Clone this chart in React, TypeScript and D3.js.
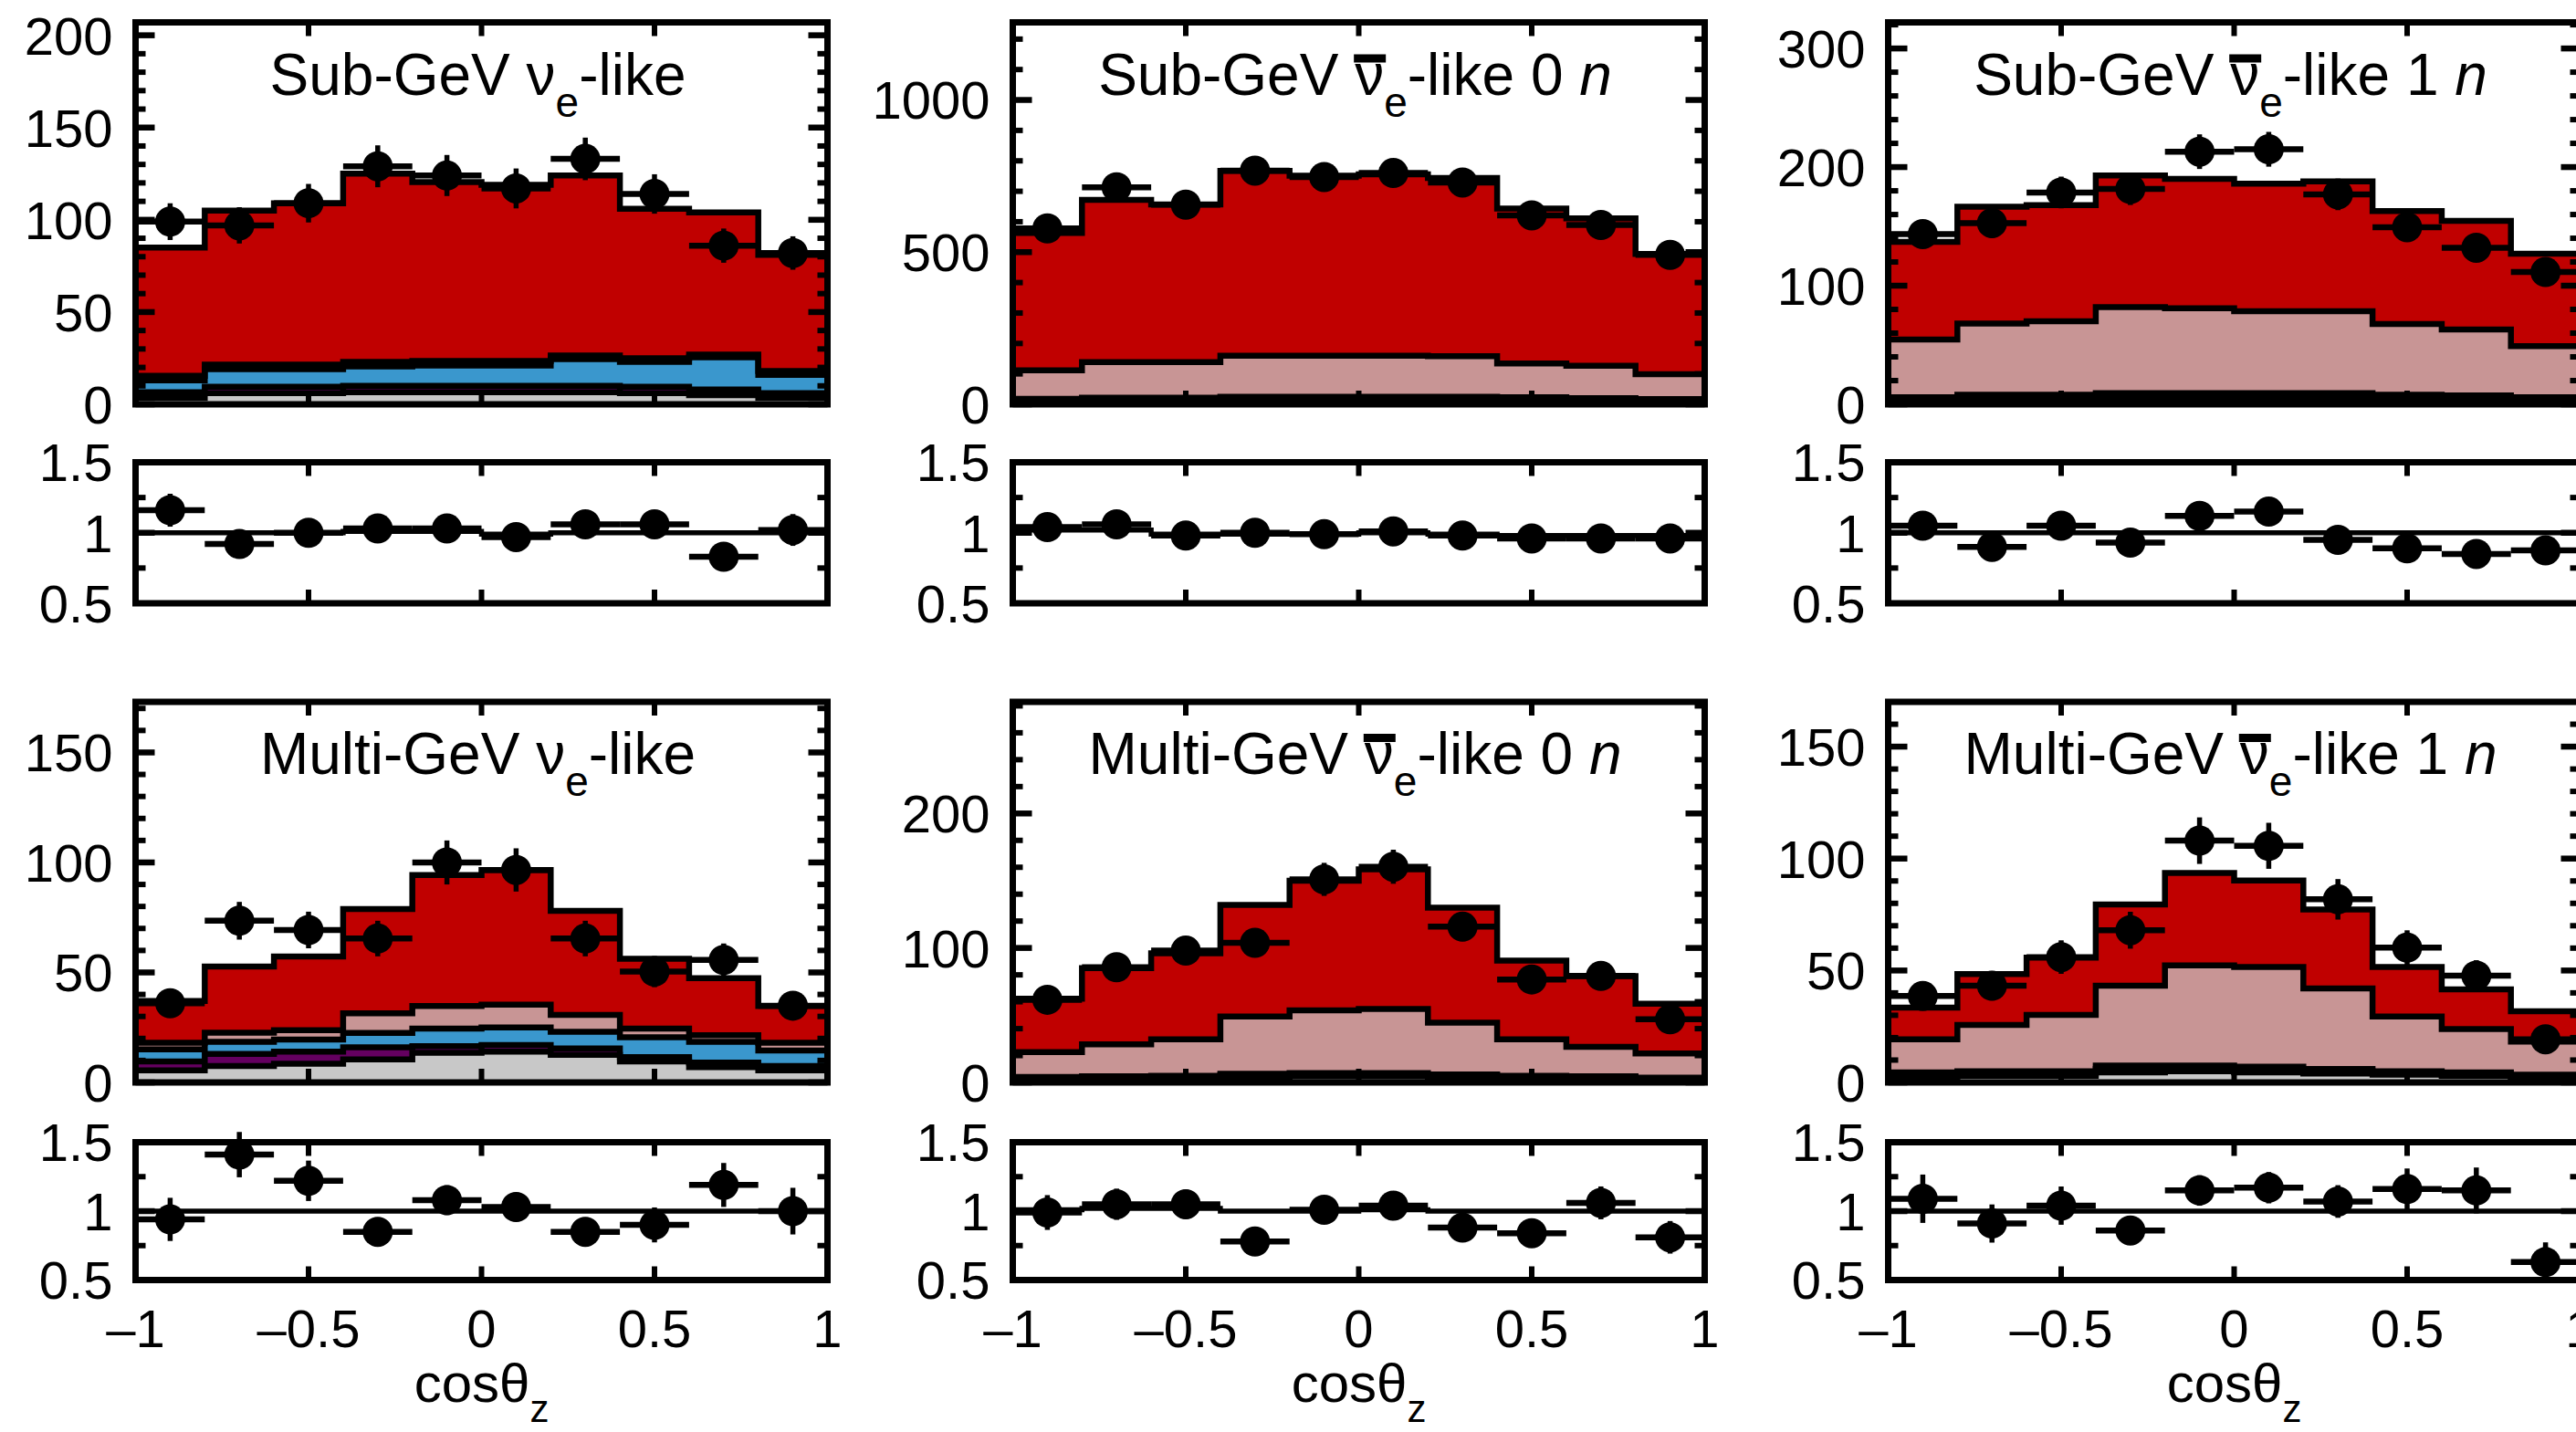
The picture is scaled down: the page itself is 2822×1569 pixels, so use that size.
import React, { useEffect, useRef } from 'react';
import * as d3 from 'd3';

// ---------------- data ----------------
const binEdges = [-1, -0.8, -0.6, -0.4, -0.2, 0, 0.2, 0.4, 0.6, 0.8, 1];
const binCenters = [-0.9, -0.7, -0.5, -0.3, -0.1, 0.1, 0.3, 0.5, 0.7, 0.9];
const xTickValues = [-1, -0.5, 0, 0.5, 1];
const xTickLabels = ['\u20131', '\u20130.5', '0', '0.5', '1'];
const ratioTickValues = [0.5, 1, 1.5];
const ratioTickLabels = ['0.5', '1', '1.5'];

// Sub-GeV nu_e-like
const sgNueGray = [3.5, 6, 6, 6.5, 6.5, 6.5, 6.5, 6, 5, 3.5];
const sgNuePurple = [6.5, 9.5, 9.5, 10, 10, 10, 10, 9.5, 8, 6];
const sgNueBlue = [13, 19, 19, 20.5, 21, 21, 24.5, 23, 25.5, 16];
const sgNuePink = [15.5, 21.5, 21.5, 23, 23.5, 23.5, 26.5, 25, 27, 18];
const sgNueTotal = [85, 105, 109, 125, 120.5, 119, 124, 106, 104, 81];
const sgNueData = [99, 97, 109, 129, 124, 117, 133, 114, 86, 82];
const sgNueRatio = [1.16, 0.92, 1.0, 1.03, 1.03, 0.97, 1.06, 1.06, 0.83, 1.02];
const sgNueRatioLine = [1, 1, 1, 1.01, 1.01, 0.99, 1, 1, 1, 1];

// Sub-GeV nubar_e-like 0n
const sg0nGray = [4, 5, 6, 8, 8, 8, 8, 7, 5, 4];
const sg0nPurple = [6, 7, 8, 10, 10, 10, 10, 9, 7, 6];
const sg0nBlue = [18, 22, 22, 25, 25, 25, 25, 23, 20, 17];
const sg0nPink = [112, 139, 139, 160, 160, 160, 158, 134, 127, 99];
const sg0nTotal = [563, 672, 657, 767, 751, 756, 744, 643, 611, 494];
const sg0nData = [578, 713, 656, 768, 747, 760, 729, 621, 589, 491];
const sg0nRatio = [1.04, 1.06, 0.98, 1.0, 0.99, 1.01, 0.98, 0.96, 0.96, 0.96];
const sg0nRatioLine = [1.02, 1.02, 0.99, 0.99, 0.99, 1.0, 0.99, 0.98, 0.98, 0.98];

// Sub-GeV nubar_e-like 1n
const sg1nGray = [2, 3, 3, 4, 4, 4, 4, 3, 3, 2];
const sg1nPurple = [3, 4, 4, 5, 5, 5, 5, 4, 4, 3];
const sg1nBlue = [6, 8, 8, 9.5, 9.5, 9.5, 9.5, 8, 7.5, 6];
const sg1nPink = [54.6, 68, 70, 82, 81, 78.5, 78.5, 67.7, 63, 49];
const sg1nTotal = [137, 166.5, 168, 193, 190, 186, 188, 163, 154.6, 127];
const sg1nData = [143.5, 152.8, 178.6, 181.5, 213, 215, 177, 149.3, 132, 111.5];
const sg1nRatio = [1.05, 0.9, 1.05, 0.93, 1.12, 1.15, 0.95, 0.89, 0.85, 0.875];
const sg1nRatioLine = [1, 1, 1, 1, 1, 1, 1, 1, 1, 1];

// Multi-GeV nu_e-like
const mgNueGray = [5.5, 7.5, 8.5, 10.5, 13.5, 14, 12.5, 9.5, 7, 5.5];
const mgNuePurple = [9.5, 13, 14, 16, 16.5, 17, 15.5, 11.5, 9, 7.5];
const mgNueBlue = [15, 18.5, 19.5, 22.5, 24.5, 25, 23, 20.5, 18.5, 14.5];
const mgNuePink = [18, 22.6, 23.8, 31.4, 34.7, 35.4, 30.7, 24.5, 21.5, 18];
const mgNueTotal = [37, 52.7, 57.3, 78.8, 94.3, 96.6, 78, 56.2, 47.4, 34.7];
const mgNueData = [36, 73.5, 69.3, 65.4, 100, 96.6, 65.4, 50.4, 55.7, 34.9];
const mgNueRatio = [0.94, 1.41, 1.22, 0.85, 1.08, 1.03, 0.85, 0.9, 1.19, 1.0];
const mgNueRatioLine = [1, 1, 1, 1, 1, 1, 1, 1, 1, 1];

// Multi-GeV nubar_e-like 0n
const mg0nGray = [2, 2.5, 3, 4, 4.5, 4.5, 4, 3, 2.5, 2];
const mg0nPurple = [3, 3.5, 4, 5.5, 6, 6, 5, 4, 3.5, 3];
const mg0nBlue = [4, 4.5, 5, 6.5, 7, 7, 6, 5, 4.5, 3.5];
const mg0nPink = [22.6, 28.3, 32, 49, 53.6, 54.7, 44.5, 32, 26.4, 21.5];
const mg0nTotal = [62.3, 85, 96, 132, 150, 158.5, 130, 90.6, 79, 58.5];
const mg0nData = [61.5, 85.7, 98, 103.8, 151, 160.4, 115.8, 76.6, 79.2, 47];
const mg0nRatio = [0.99, 1.05, 1.05, 0.78, 1.01, 1.04, 0.88, 0.84, 1.06, 0.81];
const mg0nRatioLine = [1.01, 1.02, 1.02, 1, 1, 1.01, 1, 1, 1, 1];

// Multi-GeV nubar_e-like 1n
const mg1nGray = [2.5, 3, 3, 4.5, 5, 4.5, 4, 3.5, 3, 2];
const mg1nPurple = [3.5, 4, 4, 6, 6.5, 6, 5, 4.5, 3.5, 2.5];
const mg1nBlue = [4.5, 5, 5, 7.5, 7.5, 7, 6, 5, 4.5, 3.5];
const mg1nPink = [19.3, 25.7, 30.2, 43.2, 52.3, 51.6, 42, 29.5, 23.9, 18.2];
const mg1nTotal = [33.4, 48.4, 55.7, 79.5, 93.6, 90.2, 77.3, 51.6, 41.6, 31.8];
const mg1nData = [38.6, 43.2, 56, 68, 108, 105.7, 81.8, 60.2, 47.7, 19.3];
const mg1nRatio = [1.09, 0.91, 1.04, 0.86, 1.15, 1.17, 1.07, 1.16, 1.15, 0.63];
const mg1nRatioLine = [1, 1, 1, 1, 1, 1, 1, 1, 1, 1];

const layerColors = ['#c00000', '#c89595', '#3a97cd', '#640060', '#c8c8c8'];

type Panel = {
  prefix: string; bar: boolean; suffix: string;
  ymax: number; major: number; minor: number;
  layers: number[][]; data: number[]; ratio: number[]; ratioLine: number[];
  col: number; row: number;
};

const panels: Panel[] = [
  { prefix: 'Sub-GeV ', bar: false, suffix: '', ymax: 207, major: 50, minor: 10,
    layers: [sgNueTotal, sgNuePink, sgNueBlue, sgNuePurple, sgNueGray], data: sgNueData, ratio: sgNueRatio, ratioLine: sgNueRatioLine, col: 0, row: 0 },
  { prefix: 'Sub-GeV ', bar: true, suffix: '0', ymax: 1255, major: 500, minor: 100,
    layers: [sg0nTotal, sg0nPink, sg0nBlue, sg0nPurple, sg0nGray], data: sg0nData, ratio: sg0nRatio, ratioLine: sg0nRatioLine, col: 1, row: 0 },
  { prefix: 'Sub-GeV ', bar: true, suffix: '1', ymax: 322, major: 100, minor: 20,
    layers: [sg1nTotal, sg1nPink, sg1nBlue, sg1nPurple, sg1nGray], data: sg1nData, ratio: sg1nRatio, ratioLine: sg1nRatioLine, col: 2, row: 0 },
  { prefix: 'Multi-GeV ', bar: false, suffix: '', ymax: 173, major: 50, minor: 10,
    layers: [mgNueTotal, mgNuePink, mgNueBlue, mgNuePurple, mgNueGray], data: mgNueData, ratio: mgNueRatio, ratioLine: mgNueRatioLine, col: 0, row: 1 },
  { prefix: 'Multi-GeV ', bar: true, suffix: '0', ymax: 283, major: 100, minor: 20,
    layers: [mg0nTotal, mg0nPink, mg0nBlue, mg0nPurple, mg0nGray], data: mg0nData, ratio: mg0nRatio, ratioLine: mg0nRatioLine, col: 1, row: 1 },
  { prefix: 'Multi-GeV ', bar: true, suffix: '1', ymax: 170, major: 50, minor: 10,
    layers: [mg1nTotal, mg1nPink, mg1nBlue, mg1nPurple, mg1nGray], data: mg1nData, ratio: mg1nRatio, ratioLine: mg1nRatioLine, col: 2, row: 1 },
];

// ---------------- layout ----------------
const W = 2822, H = 1569;
const colX = [148.5, 1109.5, 2068.5];
const panelW = 758;
const mainY = [[24.5, 443], [769, 1186]];
const ratioY = [[506.5, 661], [1251.5, 1402.5]];
const FONT = "'Liberation Sans', Arial, Helvetica, sans-serif";
const FS = 58;
const TFS = 64;

export default function App() {
  const ref = useRef<SVGSVGElement | null>(null);

  useEffect(() => {
    const svg = d3.select(ref.current);
    svg.selectAll('*').remove();
    svg.append('rect').attr('width', W).attr('height', H).attr('fill', 'white');
    const defs = svg.append('defs');

    panels.forEach((p, pi) => {
      const x0 = colX[p.col];
      const [mt, mb] = mainY[p.row];
      const [rt, rb] = ratioY[p.row];
      const x = d3.scaleLinear().domain([-1, 1]).range([x0, x0 + panelW]);
      const y = d3.scaleLinear().domain([0, p.ymax]).range([mb, mt]);
      const yr = d3.scaleLinear().domain([0.5, 1.5]).range([rb, rt]);

      const clipId = `clip${pi}`;
      defs.append('clipPath').attr('id', clipId)
        .append('rect').attr('x', x0).attr('y', mt).attr('width', panelW).attr('height', mb - mt);
      const clipR = `clipr${pi}`;
      defs.append('clipPath').attr('id', clipR)
        .append('rect').attr('x', x0).attr('y', rt).attr('width', panelW).attr('height', rb - rt);

      const stepPts = (v: number[]) => {
        const pts: [number, number][] = [];
        v.forEach((val, i) => { pts.push([binEdges[i], val]); pts.push([binEdges[i + 1], val]); });
        return pts;
      };

      const g = svg.append('g').attr('clip-path', `url(#${clipId})`);
      const area = d3.area<[number, number]>().x(d => x(d[0])).y0(y(0)).y1(d => y(d[1]));
      const line = d3.line<[number, number]>().x(d => x(d[0])).y(d => y(d[1]));
      p.layers.forEach((layer, li) => {
        g.append('path').attr('d', area(stepPts(layer))).attr('fill', layerColors[li]).attr('stroke', 'none');
      });
      [...p.layers].reverse().forEach(layer => {
        g.append('path').attr('d', line(stepPts(layer))).attr('fill', 'none')
          .attr('stroke', 'black').attr('stroke-width', 6.5).attr('stroke-linejoin', 'miter');
      });

      const drawFrame = (top: number, bot: number, ys: d3.ScaleLinear<number, number>,
                         majors: number[], minors: number[]) => {
        const fg = svg.append('g');
        fg.append('rect').attr('x', x0).attr('y', top).attr('width', panelW).attr('height', bot - top)
          .attr('fill', 'none').attr('stroke', 'black').attr('stroke-width', 7);
        [-0.5, 0, 0.5].forEach(v => {
          fg.append('line').attr('x1', x(v)).attr('x2', x(v)).attr('y1', top).attr('y2', top + 15)
            .attr('stroke', 'black').attr('stroke-width', 6);
          fg.append('line').attr('x1', x(v)).attr('x2', x(v)).attr('y1', bot).attr('y2', bot - 15)
            .attr('stroke', 'black').attr('stroke-width', 6);
        });
        majors.forEach(v => {
          fg.append('line').attr('x1', x0).attr('x2', x0 + 21).attr('y1', ys(v)).attr('y2', ys(v))
            .attr('stroke', 'black').attr('stroke-width', 6.5);
          fg.append('line').attr('x1', x0 + panelW).attr('x2', x0 + panelW - 21).attr('y1', ys(v)).attr('y2', ys(v))
            .attr('stroke', 'black').attr('stroke-width', 6.5);
        });
        minors.forEach(v => {
          fg.append('line').attr('x1', x0).attr('x2', x0 + 11).attr('y1', ys(v)).attr('y2', ys(v))
            .attr('stroke', 'black').attr('stroke-width', 6);
          fg.append('line').attr('x1', x0 + panelW).attr('x2', x0 + panelW - 11).attr('y1', ys(v)).attr('y2', ys(v))
            .attr('stroke', 'black').attr('stroke-width', 6);
        });
      };

      const majors = d3.range(0, p.ymax + 1e-9, p.major);
      const minors = d3.range(0, p.ymax + 1e-9, p.minor).filter(v => Math.abs(v / p.major - Math.round(v / p.major)) > 1e-6);
      drawFrame(mt, mb, y, majors, minors);
      drawFrame(rt, rb, yr, [1], [0.75, 1.25]);

      majors.forEach(v => {
        svg.append('text').attr('x', x0 - 25).attr('y', y(v) + 0.36 * FS).attr('text-anchor', 'end')
          .attr('font-family', FONT).attr('font-size', FS).text(String(v));
      });
      ratioTickValues.forEach((v, i) => {
        svg.append('text').attr('x', x0 - 25).attr('y', yr(v) + 0.36 * FS).attr('text-anchor', 'end')
          .attr('font-family', FONT).attr('font-size', FS).text(ratioTickLabels[i]);
      });

      const rline = d3.line<[number, number]>().x(d => x(d[0])).y(d => yr(d[1]));
      svg.append('g').attr('clip-path', `url(#${clipR})`).append('path')
        .attr('d', rline(stepPts(p.ratioLine))).attr('fill', 'none')
        .attr('stroke', 'black').attr('stroke-width', 5.5);

      const drawPoints = (vals: number[], errs: number[], ys: d3.ScaleLinear<number, number>) => {
        const dg = svg.append('g');
        vals.forEach((v, i) => {
          const cx = x(binCenters[i]);
          dg.append('line').attr('x1', x(binEdges[i])).attr('x2', x(binEdges[i + 1]))
            .attr('y1', ys(v)).attr('y2', ys(v)).attr('stroke', 'black').attr('stroke-width', 6.5);
          dg.append('line').attr('x1', cx).attr('x2', cx)
            .attr('y1', ys(v - errs[i])).attr('y2', ys(v + errs[i])).attr('stroke', 'black').attr('stroke-width', 5.5);
          dg.append('circle').attr('cx', cx).attr('cy', ys(v)).attr('r', 16.5).attr('fill', 'black');
        });
      };
      drawPoints(p.data, p.data.map(v => Math.sqrt(v)), y);
      drawPoints(p.ratio, p.ratio.map((r, i) => r / Math.sqrt(p.data[i])), yr);

      // title
      const cx = x(0);
      const base = mt + 79;
      const t = svg.append('text').attr('x', cx - 4).attr('y', base).attr('text-anchor', 'middle')
        .attr('font-family', FONT).attr('font-size', TFS);
      t.append('tspan').text(p.prefix);
      t.append('tspan').text('\u03bd');
      t.append('tspan').attr('dy', 24).attr('font-size', 46).text('e');
      t.append('tspan').attr('dy', -24).text('-like');
      if (p.suffix) {
        t.append('tspan').text(' ' + p.suffix + ' ');
        t.append('tspan').attr('font-style', 'italic').text('n');
      }
      if (p.bar) {
        try {
          const node = t.node() as SVGTextElement;
          const ext = node.getExtentOfChar(p.prefix.length);
          svg.append('rect').attr('x', ext.x - 1).attr('y', base - 44)
            .attr('width', ext.width + 3).attr('height', 9).attr('fill', 'black');
        } catch (e) { /* ignore */ }
      }

      if (p.row === 1) {
        xTickValues.forEach((v, i) => {
          svg.append('text').attr('x', x(v)).attr('y', rb + 73).attr('text-anchor', 'middle')
            .attr('font-family', FONT).attr('font-size', FS).text(xTickLabels[i]);
        });
        const xl = svg.append('text').attr('x', cx).attr('y', 1536).attr('text-anchor', 'middle')
          .attr('font-family', FONT).attr('font-size', 60);
        xl.append('tspan').text('cos\u03b8');
        xl.append('tspan').attr('dy', 22).attr('font-size', 42).text('z');
      }
    });
  }, []);

  return (
    <svg ref={ref} width={W} height={H} style={{ position: 'absolute', left: 0, top: 0 }} />
  );
}
